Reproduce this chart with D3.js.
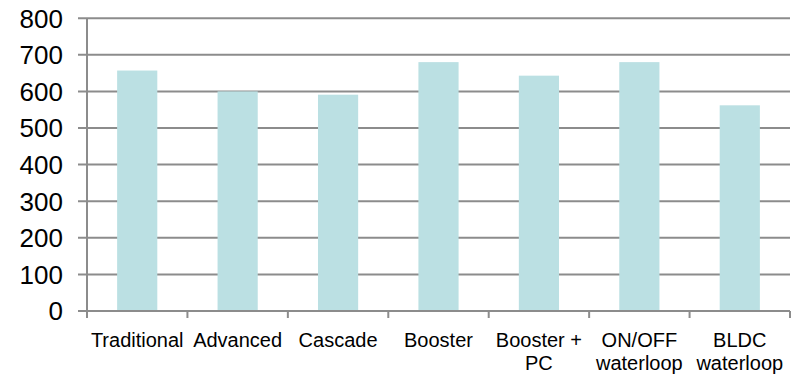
<!DOCTYPE html>
<html><head><meta charset="utf-8">
<script src="https://cdn.jsdelivr.net/npm/d3@7"></script>
<style>body{margin:0;background:#fff}svg{display:block}text{font-family:"Liberation Sans",Arial,sans-serif;fill:#000}</style>
</head><body><svg id="c" width="798" height="374"></svg>
<script>
const categories = ["Traditional","Advanced","Cascade","Booster","Booster + PC","ON/OFF waterloop","BLDC waterloop"];
const values = [657, 600, 591, 680, 643, 680, 562];
const yTicks = [0,100,200,300,400,500,600,700,800];

const svg = d3.select("#c");
const m = {l:87, r:790, t:18.2, b:311};
const x = d3.scaleBand().domain(categories).range([m.l, m.r]).paddingInner(0.6).paddingOuter(0.3);
const xb = d3.scaleBand().domain(categories).range([m.l, m.r]);
const y = d3.scaleLinear().domain([0,800]).range([m.b, m.t]);
const grid = "#8c8c8c";

// gridlines
svg.append("g").selectAll("line").data(yTicks).join("line")
  .attr("x1", m.l-9).attr("x2", m.r).attr("y1", d=>y(d)).attr("y2", d=>y(d))
  .attr("stroke", grid).attr("stroke-width", 2);
// y axis line
svg.append("line").attr("x1", m.l).attr("x2", m.l).attr("y1", m.t).attr("y2", m.b+7)
  .attr("stroke", grid).attr("stroke-width", 2);
// x ticks
const bounds = categories.map(c=>xb(c)).concat([m.r]);
svg.append("g").selectAll("line").data(bounds).join("line")
  .attr("x1", d=>d).attr("x2", d=>d).attr("y1", m.b).attr("y2", m.b+7)
  .attr("stroke", grid).attr("stroke-width", 2);
// bars
svg.append("g").selectAll("rect").data(values).join("rect")
  .attr("x", (d,i)=>x(categories[i])).attr("width", x.bandwidth())
  .attr("y", d=>y(d)).attr("height", d=>m.b - y(d) - 1)
  .attr("fill", "#bbe0e3");
// y labels
svg.append("g").selectAll("text").data(yTicks).join("text")
  .attr("x", 63).attr("y", d=>y(d)).attr("dy", "0.36em").attr("text-anchor","end")
  .attr("font-size", 26).text(d=>d);
// x labels with wrap
const xl = svg.append("g");
categories.forEach(c=>{
  const t = xl.append("text").attr("x", xb(c)+xb.bandwidth()/2).attr("y", 346.5)
    .attr("text-anchor","middle").attr("font-size", 20);
  const words = c.split(" ");
  let line = [], lines = [];
  const probe = t.append("tspan");
  words.forEach(w=>{
    const test = line.concat([w]).join(" ");
    probe.text(test);
    if (probe.node().getComputedTextLength() > xb.bandwidth() && line.length) {
      lines.push(line.join(" ")); line = [w];
    } else line.push(w);
  });
  lines.push(line.join(" "));
  probe.remove();
  lines.forEach((l,i)=>t.append("tspan").attr("x", xb(c)+xb.bandwidth()/2).attr("dy", i? 23:0).text(l));
});
</script></body></html>
